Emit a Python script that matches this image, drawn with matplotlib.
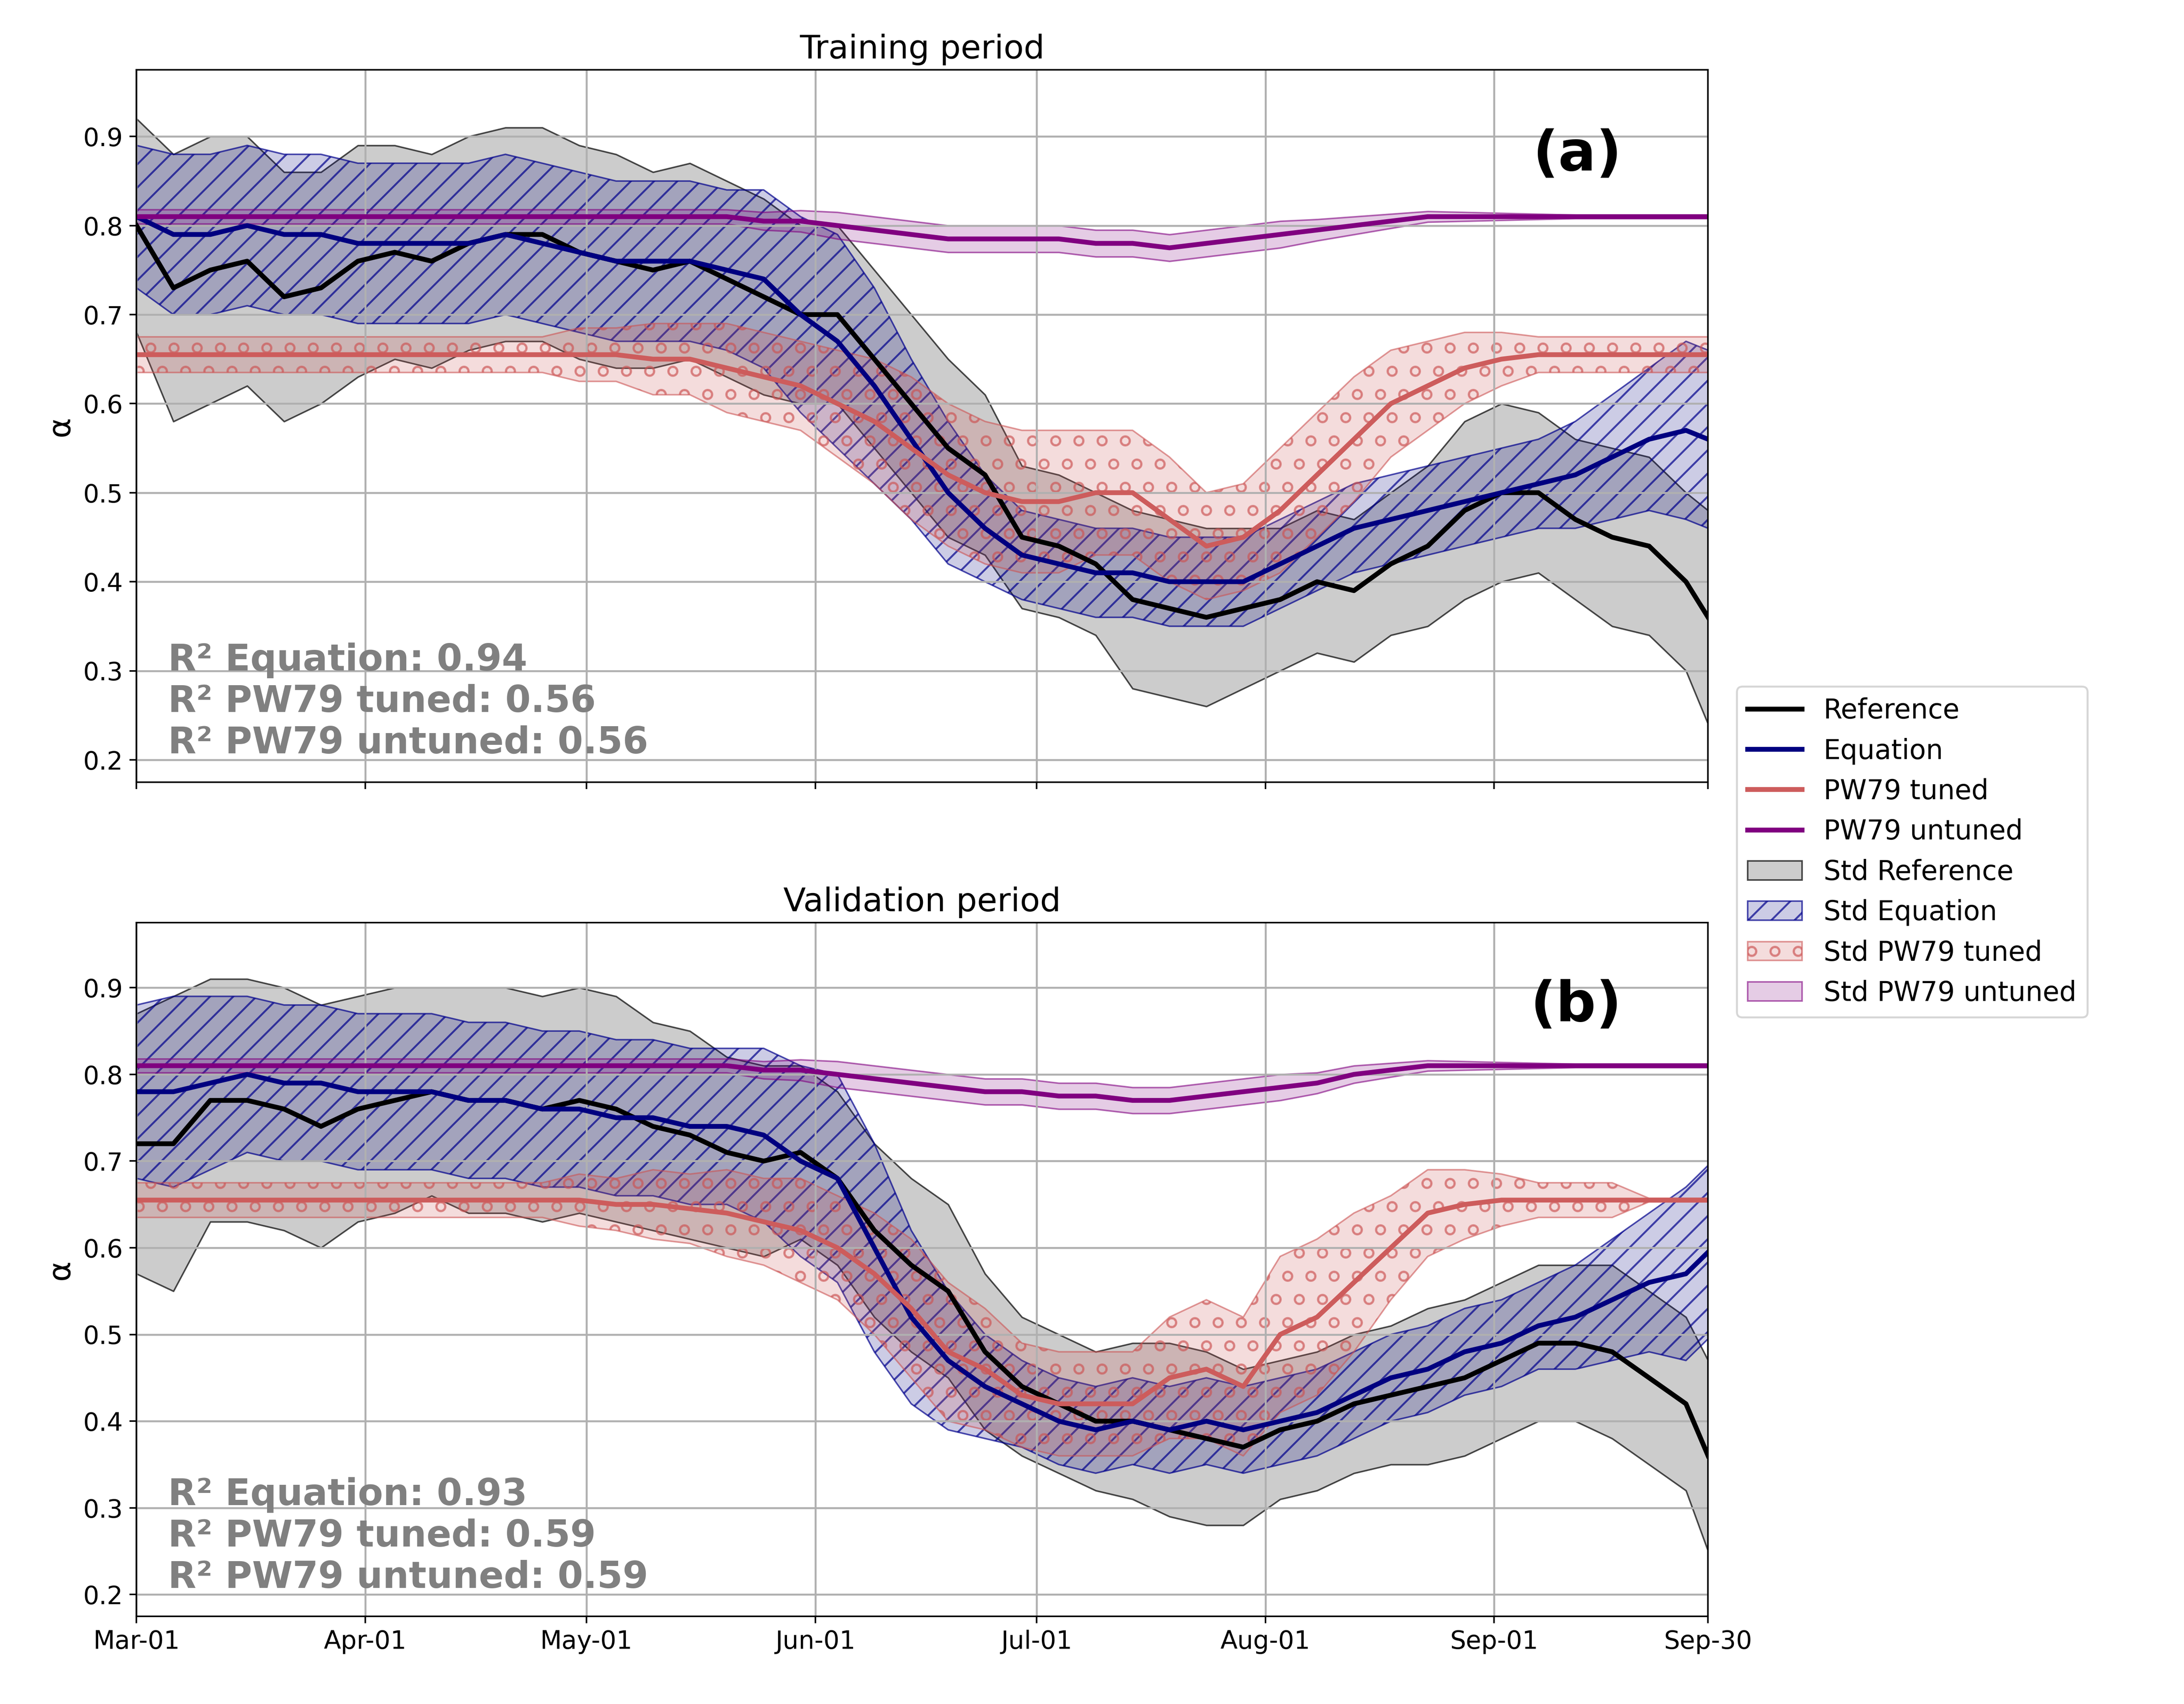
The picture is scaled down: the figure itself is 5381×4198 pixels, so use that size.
import matplotlib
matplotlib.use("Agg")
import matplotlib.pyplot as plt
import matplotlib.dates as mdates
import numpy as np
import pandas as pd

day_offsets = list(range(0, 211, 5)) + [213]

# Panel (a) Training
ref_a = [0.80,0.73,0.75,0.76,0.72,0.73,0.76,0.77,0.76,0.78,0.79,0.79,0.77,0.76,0.75,0.76,0.74,0.72,0.70,0.70,
         0.65,0.60,0.55,0.52,0.45,0.44,0.42,0.38,0.37,0.36,0.37,0.38,0.40,0.39,0.42,0.44,0.48,0.50,0.50,0.47,
         0.45,0.44,0.40,0.36]
ref_a_std = [0.12,0.15,0.15,0.14,0.14,0.13,0.13,0.12,0.12,0.12,0.12,0.12,0.12,0.12,0.11,0.11,0.11,0.11,0.10,0.10,
             0.10,0.10,0.10,0.09,0.08,0.08,0.08,0.10,0.10,0.10,0.09,0.08,0.08,0.08,0.08,0.09,0.10,0.10,0.09,0.09,
             0.10,0.10,0.10,0.12]
eq_a = [0.81,0.79,0.79,0.80,0.79,0.79,0.78,0.78,0.78,0.78,0.79,0.78,0.77,0.76,0.76,0.76,0.75,0.74,0.70,0.67,
        0.62,0.56,0.50,0.46,0.43,0.42,0.41,0.41,0.40,0.40,0.40,0.42,0.44,0.46,0.47,0.48,0.49,0.50,0.51,0.52,
        0.54,0.56,0.57,0.56]
eq_a_std = [0.08,0.09,0.09,0.09,0.09,0.09,0.09,0.09,0.09,0.09,0.09,0.09,0.09,0.09,0.09,0.09,0.09,0.10,0.11,0.12,
            0.11,0.09,0.08,0.06,0.05,0.05,0.05,0.05,0.05,0.05,0.05,0.05,0.05,0.05,0.05,0.05,0.05,0.05,0.05,0.06,
            0.07,0.08,0.10,0.10]
tun_a = [0.655,0.655,0.655,0.655,0.655,0.655,0.655,0.655,0.655,0.655,0.655,0.655,0.655,0.655,0.65,0.65,0.64,0.63,0.62,0.60,
         0.58,0.55,0.52,0.50,0.49,0.49,0.50,0.50,0.47,0.44,0.45,0.48,0.52,0.56,0.60,0.62,0.64,0.65,0.655,0.655,
         0.655,0.655,0.655,0.655]
tun_a_std = [0.02,0.02,0.02,0.02,0.02,0.02,0.02,0.02,0.02,0.02,0.02,0.02,0.03,0.03,0.04,0.04,0.05,0.05,0.05,0.06,
             0.07,0.08,0.08,0.08,0.08,0.08,0.07,0.07,0.07,0.06,0.06,0.07,0.07,0.07,0.06,0.05,0.04,0.03,0.02,0.02,
             0.02,0.02,0.02,0.02]
unt_a = [0.81,0.81,0.81,0.81,0.81,0.81,0.81,0.81,0.81,0.81,0.81,0.81,0.81,0.81,0.81,0.81,0.81,0.805,0.805,0.80,
         0.795,0.79,0.785,0.785,0.785,0.785,0.78,0.78,0.775,0.78,0.785,0.79,0.795,0.80,0.805,0.81,0.81,0.81,0.81,0.81,
         0.81,0.81,0.81,0.81]
unt_a_std = [0.008,0.008,0.008,0.008,0.008,0.008,0.008,0.008,0.008,0.008,0.008,0.008,0.008,0.008,0.008,0.008,0.008,0.01,0.012,0.015,
             0.015,0.015,0.015,0.015,0.015,0.015,0.015,0.015,0.015,0.015,0.015,0.015,0.012,0.01,0.008,0.006,0.005,0.004,0.003,0.002,
             0.002,0.002,0.002,0.002]

# Panel (b) Validation
ref_b = [0.72,0.72,0.77,0.77,0.76,0.74,0.76,0.77,0.78,0.77,0.77,0.76,0.77,0.76,0.74,0.73,0.71,0.70,0.71,0.68,
         0.62,0.58,0.55,0.48,0.44,0.42,0.40,0.40,0.39,0.38,0.37,0.39,0.40,0.42,0.43,0.44,0.45,0.47,0.49,0.49,
         0.48,0.45,0.42,0.36]
ref_b_std = [0.15,0.17,0.14,0.14,0.14,0.14,0.13,0.13,0.12,0.13,0.13,0.13,0.13,0.13,0.12,0.12,0.11,0.11,0.10,0.10,
             0.10,0.10,0.10,0.09,0.08,0.08,0.08,0.09,0.10,0.10,0.09,0.08,0.08,0.08,0.08,0.09,0.09,0.09,0.09,0.09,
             0.10,0.10,0.10,0.11]
eq_b = [0.78,0.78,0.79,0.80,0.79,0.79,0.78,0.78,0.78,0.77,0.77,0.76,0.76,0.75,0.75,0.74,0.74,0.73,0.70,0.68,
        0.60,0.52,0.47,0.44,0.42,0.40,0.39,0.40,0.39,0.40,0.39,0.40,0.41,0.43,0.45,0.46,0.48,0.49,0.51,0.52,
        0.54,0.56,0.57,0.595]
eq_b_std = [0.10,0.11,0.10,0.09,0.09,0.09,0.09,0.09,0.09,0.09,0.09,0.09,0.09,0.09,0.09,0.09,0.09,0.10,0.11,0.12,
            0.12,0.10,0.08,0.06,0.05,0.05,0.05,0.05,0.05,0.05,0.05,0.05,0.05,0.05,0.05,0.05,0.05,0.05,0.05,0.06,
            0.07,0.08,0.10,0.10]
tun_b = [0.655,0.655,0.655,0.655,0.655,0.655,0.655,0.655,0.655,0.655,0.655,0.655,0.655,0.65,0.65,0.645,0.64,0.63,0.62,0.60,
         0.57,0.53,0.48,0.46,0.43,0.42,0.42,0.42,0.45,0.46,0.44,0.50,0.52,0.56,0.60,0.64,0.65,0.655,0.655,0.655,
         0.655,0.655,0.655,0.655]
tun_b_std = [0.02,0.02,0.02,0.02,0.02,0.02,0.02,0.02,0.02,0.02,0.02,0.02,0.03,0.03,0.04,0.04,0.05,0.05,0.06,0.06,
             0.07,0.08,0.08,0.07,0.06,0.06,0.06,0.06,0.07,0.08,0.08,0.09,0.09,0.08,0.06,0.05,0.04,0.03,0.02,0.02,
             0.02,0.002,0.002,0.002]
unt_b = [0.81,0.81,0.81,0.81,0.81,0.81,0.81,0.81,0.81,0.81,0.81,0.81,0.81,0.81,0.81,0.81,0.81,0.805,0.805,0.80,
         0.795,0.79,0.785,0.78,0.78,0.775,0.775,0.77,0.77,0.775,0.78,0.785,0.79,0.80,0.805,0.81,0.81,0.81,0.81,0.81,
         0.81,0.81,0.81,0.81]
unt_b_std = unt_a_std

r2_a = ["R² Equation: 0.94", "R² PW79 tuned: 0.56", "R² PW79 untuned: 0.56"]
r2_b = ["R² Equation: 0.93", "R² PW79 tuned: 0.59", "R² PW79 untuned: 0.59"]
xtick_labels = ["Mar-01","Apr-01","May-01","Jun-01","Jul-01","Aug-01","Sep-01","Sep-30"]

dates = pd.Timestamp("2021-03-01") + pd.to_timedelta(day_offsets, unit="D")
tick_dates = pd.to_datetime(["2021-03-01","2021-04-01","2021-05-01","2021-06-01","2021-07-01","2021-08-01","2021-09-01","2021-09-30"])

plt.rcParams["hatch.linewidth"] = 1.0
fig = plt.figure(figsize=(15.69, 12.24), dpi=343)
axa = fig.add_axes([0.0625, 0.541, 0.7195, 0.418])
axb = fig.add_axes([0.0625, 0.0515, 0.7195, 0.407], sharex=axa)

def panel(ax, ref, rs, eq, es, tu, ts, un, us, title, label, r2):
    ref, rs, eq, es, tu, ts, un, us = map(np.array, (ref, rs, eq, es, tu, ts, un, us))
    ax.fill_between(dates, ref - rs, ref + rs, facecolor=(0.5, 0.5, 0.5, 0.4), edgecolor=(0, 0, 0, 0.7), lw=0.8, label="Std Reference")
    ax.fill_between(dates, eq - es, eq + es, facecolor=(0, 0, 0.5, 0.2), edgecolor=(0, 0, 0.55, 0.7), hatch="//", lw=0.8, label="Std Equation")
    ax.fill_between(dates, tu - ts, tu + ts, facecolor=(0.8, 0.33, 0.33, 0.2), edgecolor=(0.8, 0.33, 0.33, 0.6), hatch="o", lw=0.8, label="Std PW79 tuned")
    ax.fill_between(dates, un - us, un + us, facecolor=(0.5, 0, 0.5, 0.2), edgecolor=(0.5, 0, 0.5, 0.6), lw=0.8, label="Std PW79 untuned")
    ax.plot(dates, ref, color="black", lw=2.5, label="Reference")
    ax.plot(dates, eq, color="navy", lw=2.5, label="Equation")
    ax.plot(dates, tu, color="indianred", lw=2.5, label="PW79 tuned")
    ax.plot(dates, un, color="purple", lw=2.5, label="PW79 untuned")
    ax.set_title(title, fontsize=17)
    ax.set_ylabel("α", fontsize=16)
    ax.set_ylim(0.175, 0.975)
    ax.set_yticks([0.2, 0.3, 0.4, 0.5, 0.6, 0.7, 0.8, 0.9])
    ax.tick_params(labelsize=13)
    ax.grid(True, color="#b0b0b0", lw=1)
    ax.text(0.945, 0.88, label, transform=ax.transAxes, fontsize=29, fontweight="bold", ha="right", va="center")
    ax.text(0.02, 0.03, "\n".join(r2), transform=ax.transAxes, fontsize=19, fontweight="bold", color="gray", va="bottom", linespacing=1.2)

panel(axa, ref_a, ref_a_std, eq_a, eq_a_std, tun_a, tun_a_std, unt_a, unt_a_std, "Training period", "(a)", r2_a)
panel(axb, ref_b, ref_b_std, eq_b, eq_b_std, tun_b, tun_b_std, unt_b, unt_b_std, "Validation period", "(b)", r2_b)

axb.set_xlim(tick_dates[0], tick_dates[-1])
axb.set_xticks(tick_dates)
axb.set_xticklabels(xtick_labels)
plt.setp(axa.get_xticklabels(), visible=False)

h, l = axa.get_legend_handles_labels()
order = [4, 5, 6, 7, 0, 1, 2, 3]
fig.legend([h[i] for i in order], [l[i] for i in order], loc="center left", bbox_to_anchor=(0.789, 0.5), fontsize=14)

fig.savefig("out.png", dpi=343)
